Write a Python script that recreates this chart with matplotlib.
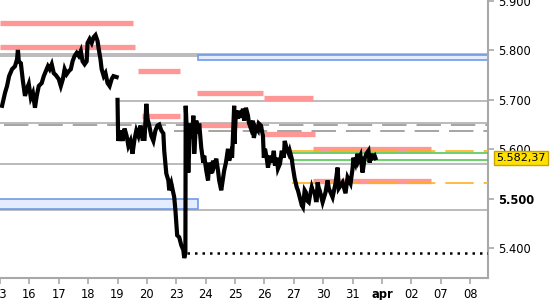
import numpy as np
import matplotlib.pyplot as plt

# day slots on the x axis (one slot per trading day)
day_labels = ['13', '16', '17', '18', '19', '20', '23', '24', '25', '26', '27', '30', '31', 'apr', '02', '07', '08']
y_ticks = [5.4, 5.5, 5.6, 5.7, 5.8, 5.9]
y_ticklabels = ['5.400', '5.500', '5.600', '5.700', '5.800', '5.900']

# price, first part (13 -> 19)
t1 = [0.07, 0.17, 0.24, 0.31, 0.41, 0.51, 0.58, 0.61, 0.64, 0.71, 0.78, 0.85, 0.92, 0.98, 1.05, 1.12,
      1.19, 1.25, 1.32, 1.42, 1.49, 1.56, 1.63, 1.69, 1.76, 1.83, 1.90, 2.00, 2.07, 2.14, 2.20, 2.27,
      2.34, 2.41, 2.47, 2.54, 2.61, 2.68, 2.75, 2.81, 2.88, 2.95, 2.98, 3.05, 3.12, 3.19, 3.25, 3.32,
      3.36, 3.42, 3.46, 3.53, 3.59, 3.66, 3.73, 3.80, 3.86, 3.97]
p1 = [5.688, 5.714, 5.728, 5.748, 5.762, 5.768, 5.782, 5.801, 5.778, 5.774, 5.738, 5.708, 5.722, 5.732,
      5.704, 5.714, 5.684, 5.708, 5.728, 5.734, 5.748, 5.758, 5.768, 5.762, 5.772, 5.754, 5.750, 5.742,
      5.728, 5.742, 5.762, 5.752, 5.758, 5.762, 5.778, 5.789, 5.795, 5.789, 5.799, 5.778, 5.772, 5.778,
      5.815, 5.823, 5.815, 5.827, 5.831, 5.819, 5.803, 5.782, 5.762, 5.748, 5.754, 5.734, 5.728, 5.742,
      5.748, 5.746]

# price, second part (20 -> 31)
t2 = [4.00, 4.02, 4.03, 4.10, 4.17, 4.24, 4.31, 4.37, 4.44, 4.51, 4.58, 4.64, 4.71, 4.78, 4.85, 4.92,
      4.98, 5.02, 5.08, 5.15, 5.22, 5.29, 5.36, 5.42, 5.49, 5.56, 5.59, 5.66, 5.73, 5.76, 5.83, 5.90,
      5.93, 5.97, 6.03, 6.10, 6.17, 6.24, 6.27, 6.31, 6.32, 6.37, 6.41, 6.47, 6.54, 6.58, 6.61, 6.68,
      6.75, 6.78, 6.85, 6.92, 6.95, 7.02, 7.08, 7.12, 7.19, 7.25, 7.29, 7.36, 7.42, 7.46, 7.53, 7.59,
      7.63, 7.69, 7.76, 7.80, 7.86, 7.90, 7.97, 7.98, 8.03, 8.10, 8.14, 8.20, 8.27, 8.31, 8.37, 8.44,
      8.47, 8.54, 8.61, 8.64, 8.71, 8.78, 8.81, 8.88, 8.95, 8.98, 9.02, 9.08, 9.12, 9.19, 9.25, 9.32,
      9.36, 9.42, 9.46, 9.53, 9.59, 9.66, 9.69, 9.76, 9.83, 9.86, 9.93, 9.97, 10.03, 10.10, 10.14, 10.20,
      10.27, 10.31, 10.37, 10.41, 10.44, 10.51, 10.54, 10.61, 10.64, 10.71, 10.75, 10.78, 10.81, 10.85,
      10.88, 10.98, 11.08, 11.15, 11.19, 11.32, 11.42, 11.49, 11.53, 11.66, 11.76, 11.83, 11.93, 12.00,
      12.03, 12.10, 12.17, 12.20, 12.27, 12.34, 12.41, 12.47, 12.54, 12.58, 12.64, 12.68, 12.75, 12.78]
p2 = [5.700, 5.627, 5.617, 5.638, 5.617, 5.642, 5.627, 5.607, 5.617, 5.591, 5.621, 5.638, 5.627, 5.648,
      5.621, 5.621, 5.692, 5.662, 5.648, 5.627, 5.617, 5.638, 5.648, 5.650, 5.638, 5.632, 5.597, 5.551,
      5.537, 5.517, 5.531, 5.511, 5.503, 5.477, 5.426, 5.422, 5.406, 5.396, 5.380, 5.390, 5.688, 5.623,
      5.553, 5.652, 5.623, 5.668, 5.591, 5.658, 5.632, 5.652, 5.603, 5.573, 5.587, 5.557, 5.537, 5.573,
      5.551, 5.577, 5.567, 5.581, 5.557, 5.537, 5.517, 5.541, 5.557, 5.573, 5.601, 5.577, 5.591, 5.583,
      5.688, 5.611, 5.678, 5.662, 5.678, 5.664, 5.682, 5.658, 5.684, 5.668, 5.654, 5.642, 5.658, 5.623,
      5.644, 5.638, 5.652, 5.648, 5.627, 5.583, 5.601, 5.581, 5.563, 5.587, 5.573, 5.597, 5.567, 5.583,
      5.561, 5.571, 5.597, 5.583, 5.617, 5.601, 5.591, 5.597, 5.581, 5.563, 5.541, 5.523, 5.517, 5.503,
      5.487, 5.483, 5.517, 5.513, 5.497, 5.493, 5.503, 5.523, 5.517, 5.513, 5.497, 5.497, 5.533, 5.521,
      5.517, 5.493, 5.513, 5.537, 5.521, 5.503, 5.531, 5.563, 5.521, 5.533, 5.511, 5.543, 5.531, 5.561,
      5.583, 5.571, 5.591, 5.577, 5.587, 5.553, 5.581, 5.591, 5.597, 5.573, 5.591, 5.583, 5.587, 5.582]
last_price = 5.58237
last_label = '5.582,37'

# red zones
zone_lvl = [5.856, 5.807, 5.758, 5.714, 5.704, 5.667, 5.649, 5.631, 5.601, 5.535]
zone_from = [0.0, 0.0, 4.71, 6.71, 8.98, 4.85, 6.71, 8.98, 10.64, 10.64]
zone_to = [4.54, 4.58, 6.14, 8.95, 10.64, 6.14, 8.95, 10.71, 14.68, 14.68]

# grey support / resistance lines
grey_lvl = [5.792, 5.788, 5.698, 5.653, 5.5705, 5.478]
grey_from = [0.0, 0.0, 4.00, 0.0, 0.0, 0.0]
dash_lvl = [5.649, 5.637]
dash_from = [0.13, 5.93]
green_lvl = [5.5927, 5.5786]
orange_lvl = [5.5967, 5.5323]
line_from = 9.93
dotted_lvl = 5.3905
dotted_from = 6.37

# blue boxes
box_lo = [5.7805, 5.4785]
box_hi = [5.7906, 5.4987]
box_from = [6.75, -0.2]
box_to = [16.8, 6.75]

fig = plt.figure(figsize=(5.5, 3.0), dpi=100)
ax = fig.add_axes([0.0, 0.0733, 0.8873, 0.9267])
x_lo, x_hi = 0.068, 16.61

for lv, a in zip(grey_lvl, grey_from):
    ax.hlines(lv, a, x_hi, color='#a8a8a8', lw=1.1, zorder=1)
for lv, a in zip(dash_lvl, dash_from):
    ax.hlines(lv, a, x_hi, color='#8c8c8c', lw=1.1, linestyles=(0, (16, 6.5)), zorder=1)

for lo, hi, a, b in zip(box_lo, box_hi, box_from, box_to):
    ax.add_patch(plt.Rectangle((a, lo), b - a, hi - lo, facecolor='#e4edff',
                               edgecolor='#6f9be8', lw=1.2, zorder=2))

for lv, a, b in zip(zone_lvl, zone_from, zone_to):
    ax.hlines(lv, a, b, color='#ff9797', lw=3.8, zorder=2)

for lv in green_lvl:
    ax.hlines(lv, line_from, x_hi, color='#44c444', lw=1.1, zorder=3)
for lv in orange_lvl:
    ax.hlines(lv, line_from, x_hi, color='#ffb020', lw=1.2, linestyles=(0, (17, 6)), zorder=3)

ax.hlines(dotted_lvl, dotted_from, x_hi, color='black', lw=1.8, linestyles=(0, (1, 2)), zorder=3)

t = t1 + [np.nan] + t2
p = p1 + [np.nan] + p2
ax.plot(t, p, color='black', lw=3.0, solid_joinstyle='miter', zorder=4)

ax.set_xlim(x_lo, x_hi)
ax.set_ylim(5.3396, 5.902)

for s in ['left', 'top']:
    ax.spines[s].set_visible(False)
for s in ['right', 'bottom']:
    ax.spines[s].set_color('#a8a8a8')
    ax.spines[s].set_linewidth(1.5)

ax.yaxis.tick_right()
ax.set_yticks(y_ticks)
ax.set_yticklabels(y_ticklabels)
ax.set_xticks(range(len(day_labels)))
ax.set_xticklabels(day_labels)
ax.tick_params(axis='both', colors='#a8a8a8', labelcolor='black', labelsize=8.3,
               length=4.5, width=1.2)
ax.tick_params(axis='y', pad=3)
ax.tick_params(axis='x', pad=3)
ax.get_xticklabels()[13].set_fontweight('bold')
ax.get_yticklabels()[1].set_fontweight('bold')

ax.text(1.0175, last_price, last_label, transform=ax.get_yaxis_transform(), ha='left', va='center',
        fontsize=8.0, color='black', clip_on=False, zorder=10,
        bbox=dict(boxstyle='square,pad=0.22', facecolor='#ffe000', edgecolor='#c9a400', lw=1))

plt.savefig('out.png', dpi=100)
